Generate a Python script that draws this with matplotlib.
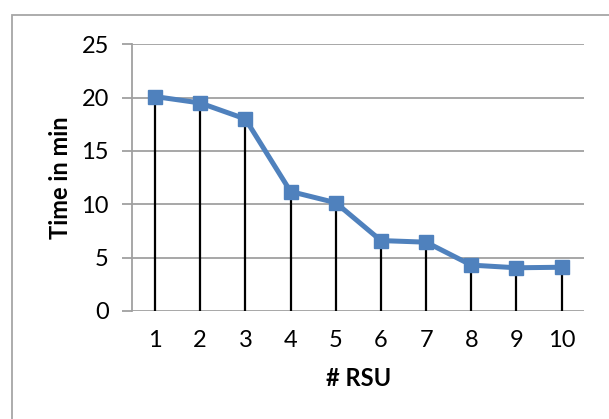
import matplotlib
matplotlib.use("Agg")
from matplotlib import pyplot as plt
from matplotlib.patches import Rectangle

rsu = [1, 2, 3, 4, 5, 6, 7, 8, 9, 10]
time_min = [20.1, 19.5, 18.0, 11.2, 10.15, 6.6, 6.45, 4.3, 4.05, 4.1]
y_ticks = [0, 5, 10, 15, 20, 25]

plt.rcParams['font.family'] = ['Lato', 'DejaVu Sans']

fig = plt.figure(figsize=(6.09, 4.19), dpi=100)
ax = fig.add_axes([0.2174, 0.2578, 0.742, 0.6365])

grid_col = "#a0a0a0"
for t in y_ticks:
    ax.axhline(t, color=grid_col, lw=1.3, zorder=1)

# drop lines from the axis to every point
ax.vlines(rsu, 0, time_min, color="black", lw=1.6, zorder=2)
ax.plot(rsu, time_min, color="#4f81bd", lw=3.6, marker="s", markersize=10.5,
        zorder=3)

ax.set_xlim(0.5, 10.5)
ax.set_ylim(0, 25)
ax.set_xticks(rsu)
ax.set_yticks(y_ticks)
ax.tick_params(axis="x", length=0, pad=14, labelsize=17)
ax.tick_params(axis="y", length=7, width=1.3, color=grid_col, pad=10,
               labelsize=17)
for s in ["top", "right", "bottom"]:
    ax.spines[s].set_visible(False)
ax.spines["left"].set_color(grid_col)
ax.spines["left"].set_linewidth(1.3)

ax.set_xlabel("# RSU", fontsize=17, fontweight="bold", labelpad=11)
ax.set_ylabel("Time in min", fontsize=17, fontweight="bold", labelpad=7)

# outer chart frame
fig.patches.append(Rectangle((12 / 609, -0.1), 1.2, 1 - 15 / 419 + 0.1,
                             transform=fig.transFigure, fill=False,
                             edgecolor="#a6a6a6", lw=1.3))

fig.savefig("out.png", dpi=100)
